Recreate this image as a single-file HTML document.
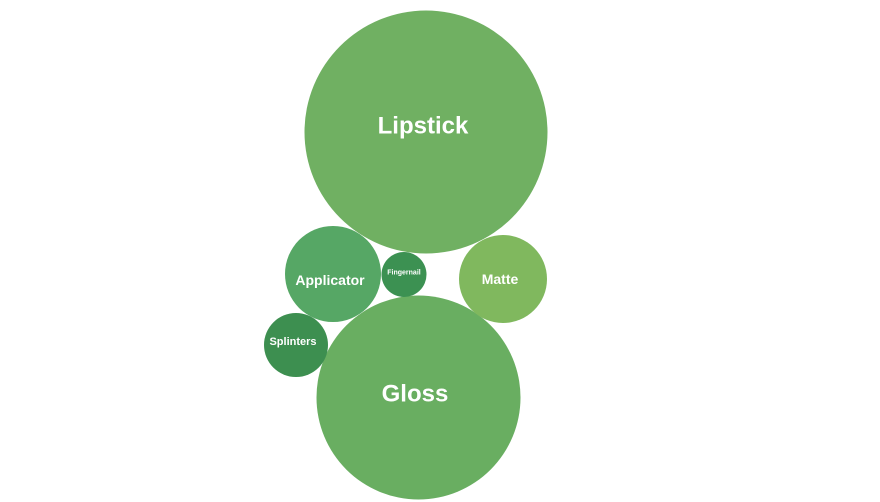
<!DOCTYPE html>
<html><head><meta charset="utf-8"><style>
html,body{margin:0;padding:0;background:#fff;width:880px;height:502px;overflow:hidden}
svg text{font-family:"Liberation Sans",sans-serif;font-weight:bold;fill:#fff;text-anchor:middle;dominant-baseline:central}
</style></head><body>
<svg width="880" height="502" viewBox="0 0 880 502">
<circle cx="426" cy="132" r="121.5" fill="#70b062"/>
<circle cx="418.5" cy="397.5" r="102" fill="#69ae61"/>
<circle cx="333" cy="274" r="48" fill="#56a765"/>
<circle cx="404" cy="274.5" r="22.5" fill="#3c9152"/>
<circle cx="503" cy="279" r="44" fill="#80b85e"/>
<circle cx="296" cy="345" r="32" fill="#3d8f50"/>
<text x="423" y="126" font-size="24">Lipstick</text>
<text x="415" y="394" font-size="24">Gloss</text>
<text x="330" y="280" font-size="14">Applicator</text>
<text x="404" y="273" font-size="7">Fingernail</text>
<text x="500" y="279" font-size="14">Matte</text>
<text x="293" y="342" font-size="11">Splinters</text>
</svg>
</body></html>
